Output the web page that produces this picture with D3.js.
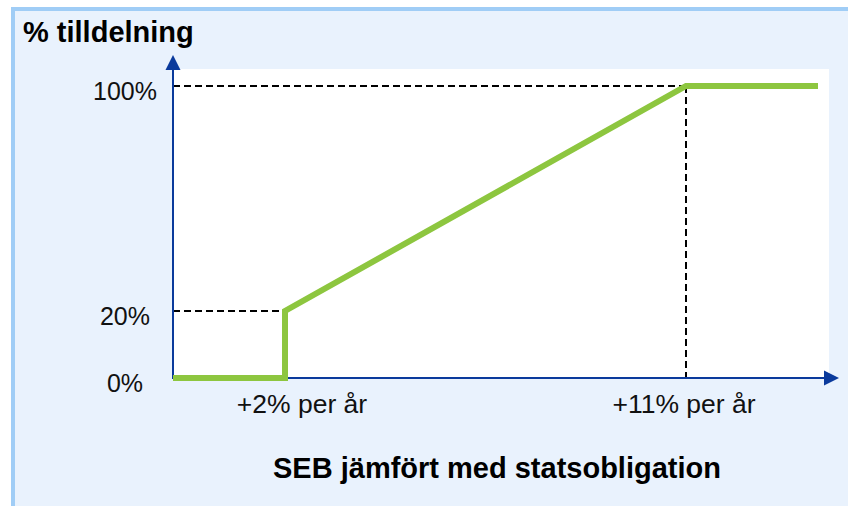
<!DOCTYPE html>
<html>
<head>
<meta charset="utf-8">
<script src="https://cdn.jsdelivr.net/npm/d3@7"></script>
<style>
	body { margin: 0; background: #fff; }
	svg { display: block; }
</style>
</head>
<body>
<div id="chart"></div>
<script>
// allocation curve: x = SEB excess return per year (%), y = allocation (%)
var seriesX = [0, 2, 2, 11, 14];
var seriesY = [0, 0, 20, 100, 100];
var yTicks = [0, 20, 100];
var yTickLabels = ["0%", "20%", "100%"];
var xTicks = [2, 11];
var xTickLabels = ["+2% per år", "+11% per år"];
var guideX = [2, 11];
var guideY = [20, 100];
var yTitle = "% tilldelning";
var xTitle = "SEB jämfört med statsobligation";

var width = 848, height = 506;
var font = "Liberation Sans, Arial, sans-serif";
var axisColor = "#0a3a9c";

var svg = d3.select("#chart").append("svg")
	.attr("width", width)
	.attr("height", height);

// panel background + light blue frame
svg.append("rect")
	.attr("x", 13).attr("y", 9)
	.attr("width", width + 10).attr("height", height + 10)
	.attr("fill", "#e9f2fd")
	.attr("stroke", "#a0cdf6")
	.attr("stroke-width", 4);

// schematic chart, so the scales are piecewise linear
var x = d3.scaleLinear().domain([0, 2, 11, 14]).range([173, 285, 686, 818]);
var y = d3.scaleLinear().domain([0, 20, 100]).range([378, 311, 86]);

svg.append("rect")
	.attr("x", x(0)).attr("y", 69)
	.attr("width", 829 - x(0)).attr("height", y(0) - 69)
	.attr("fill", "#fff");

// dashed guides
var gd = svg.append("g")
	.attr("stroke", "#000")
	.attr("stroke-width", 2)
	.attr("stroke-dasharray", "7,4")
	.attr("fill", "none");
guideY.forEach(function (v, i) {
	gd.append("line")
		.attr("x1", x(0)).attr("x2", x(guideX[i]))
		.attr("y1", y(v)).attr("y2", y(v));
});
gd.append("line")
	.attr("x1", x(11)).attr("x2", x(11))
	.attr("y1", y(100)).attr("y2", y(0));

// axes with arrow heads
var ax = svg.append("g");
ax.append("line")
	.attr("x1", x(0)).attr("x2", x(0))
	.attr("y1", y(0) + 1).attr("y2", 68)
	.attr("stroke", axisColor).attr("stroke-width", 2);
ax.append("path")
	.attr("d", "M" + (x(0) - 7.5) + ",70L" + x(0) + ",55L" + (x(0) + 7.5) + ",70Z")
	.attr("fill", axisColor);
ax.append("line")
	.attr("x1", x(0) - 1).attr("x2", 826)
	.attr("y1", y(0)).attr("y2", y(0))
	.attr("stroke", axisColor).attr("stroke-width", 2);
ax.append("path")
	.attr("d", "M824," + (y(0) - 7.5) + "L839," + y(0) + "L824," + (y(0) + 7.5) + "Z")
	.attr("fill", axisColor);

// the allocation line
var pts = seriesX.map(function (d, i) { return [d, seriesY[i]]; });
var line = d3.line()
	.x(function (d) { return x(d[0]); })
	.y(function (d) { return y(d[1]); });
svg.append("path")
	.datum(pts)
	.attr("d", line)
	.attr("fill", "none")
	.attr("stroke", "#8dc63f")
	.attr("stroke-width", 6)
	.attr("stroke-linejoin", "miter")
	.attr("stroke-linecap", "butt");

// tick labels
svg.selectAll(".ylab")
	.data(yTicks)
	.enter().append("text")
	.attr("class", "ylab")
	.attr("x", 125)
	.attr("y", function (d) { return y(d) + 14; })
	.attr("text-anchor", "middle")
	.style("font-family", font)
	.style("font-size", "25px")
	.style("fill", "#111")
	.text(function (d, i) { return yTickLabels[i]; });

svg.selectAll(".xlab")
	.data(xTicks)
	.enter().append("text")
	.attr("class", "xlab")
	.attr("x", function (d, i) { return x(d) + (i == 0 ? 17 : -2); })
	.attr("y", 413)
	.attr("text-anchor", "middle")
	.style("font-family", font)
	.style("font-size", "26.5px")
	.style("fill", "#111")
	.text(function (d, i) { return xTickLabels[i]; });

// titles
svg.append("text")
	.attr("x", 23).attr("y", 42)
	.style("font-family", font)
	.style("font-size", "29px")
	.style("font-weight", "bold")
	.style("fill", "#000")
	.text(yTitle);

svg.append("text")
	.attr("x", 497).attr("y", 478)
	.attr("text-anchor", "middle")
	.style("font-family", font)
	.style("font-size", "29px")
	.style("font-weight", "bold")
	.style("fill", "#000")
	.text(xTitle);
</script>
</body>
</html>
